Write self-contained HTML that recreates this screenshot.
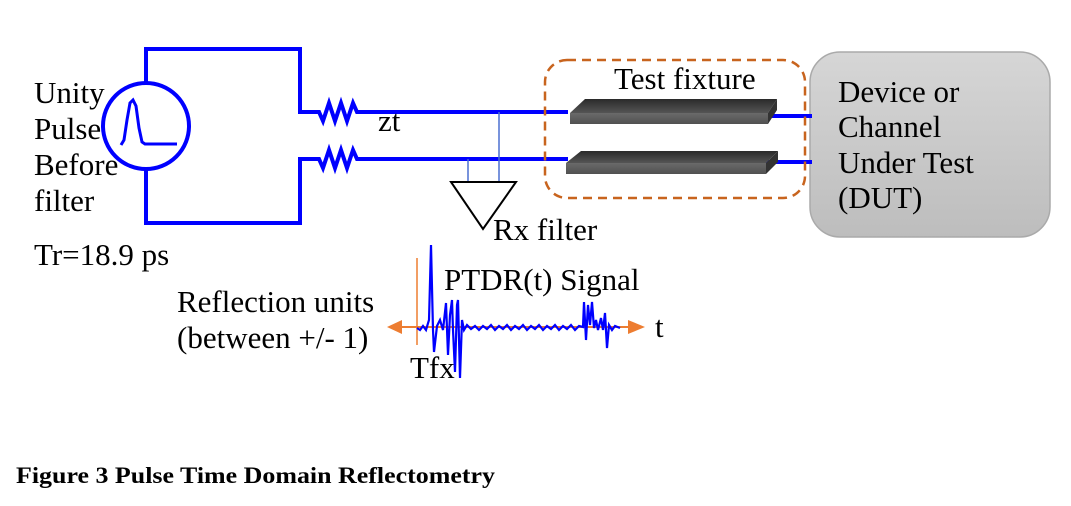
<!DOCTYPE html>
<html><head><meta charset="utf-8"><style>
html,body{margin:0;padding:0;background:#fff;}
svg{display:block;}
text{font-family:"Liberation Serif","Times New Roman",serif;font-size:31px;fill:#000;}
</style></head><body>
<svg width="1071" height="506" viewBox="0 0 1071 506" xmlns="http://www.w3.org/2000/svg">
<defs>
<linearGradient id="dut" x1="0" y1="0" x2="0" y2="1"><stop offset="0" stop-color="#d6d6d6"/><stop offset="1" stop-color="#bdbdbd"/></linearGradient>
<linearGradient id="top" x1="0" y1="0" x2="0" y2="1"><stop offset="0" stop-color="#2a2a2a"/><stop offset="1" stop-color="#555"/></linearGradient>
<linearGradient id="front" x1="0" y1="0" x2="0" y2="1"><stop offset="0" stop-color="#6a6a6a"/><stop offset="1" stop-color="#505050"/></linearGradient>
</defs>
<rect x="810" y="52" width="240" height="185" rx="30" fill="url(#dut)" stroke="#aaa" stroke-width="1.5"/>
<g stroke="#0000ff" stroke-width="4" fill="none">
<polyline points="146,82 146,49 300,49 300,112 313,112"/>
<polyline points="146,170 146,223 300,223 300,159 313,159"/>
<circle cx="146" cy="126" r="43"/>
<polyline points="121,145 124,140 127,120 130,103 133,100 136,106 139,128 142,142 145,144 177,144" stroke-width="3"/>
<polyline points="313,112 319,112 323,121 329,103 335,121 341,103 347,121 353,103 357,112 568,112"/>
<polyline points="313,159 319,159 323,168 329,150 335,168 341,150 347,168 353,150 357,159 568,159"/>
<line x1="766" y1="116" x2="812" y2="116"/>
<line x1="766" y1="162" x2="812" y2="162"/>
</g>
<g stroke="#4a6fd0" stroke-width="1.5">
<line x1="499" y1="112" x2="499" y2="182"/>
<line x1="468" y1="159" x2="468" y2="182"/>
</g>
<polygon points="451,182 516,182 483,229" fill="none" stroke="#000" stroke-width="2"/>
<polygon points="585,99 777,99 768,113 570,113" fill="url(#top)"/>
<polygon points="570,113 768,113 768,124 570,124" fill="url(#front)"/>
<polygon points="768,113 777,99 777,110 768,124" fill="#333"/>
<polygon points="581,151 778,151 766,163 566,163" fill="url(#top)"/>
<polygon points="566,163 766,163 766,174 566,174" fill="url(#front)"/>
<polygon points="766,163 778,151 778,162 766,174" fill="#333"/>
<rect x="545" y="60" width="260" height="138" rx="22" fill="none" stroke="#c8641e" stroke-width="2.5" stroke-dasharray="9,6"/>
<line x1="398" y1="327" x2="632" y2="327" stroke="#ed7d31" stroke-width="2"/>
<polygon points="387,327 402,320 402,334" fill="#ed7d31"/>
<polygon points="645,327 628,320 628,334" fill="#ed7d31"/>
<line x1="417" y1="258" x2="417" y2="345" stroke="#ed7d31" stroke-width="1.5"/>
<polyline fill="none" stroke="#0000ff" stroke-width="2.2" points="417,328 420,330 423,326 426,330 429,320 431,245 433,330 434,352 437,326 440,320 443,330 446,303 448,355 450,315 452,300 453,330 455,372 457,305 458,300 460,378 462,320 464,330 467,325 471,329 475,326 479,330 483,326 487,329 491,325 495,330 499,326 503,329 507,325 511,330 515,326 519,329 523,325 527,330 531,326 535,329 539,325 543,330 547,326 551,329 555,325 559,330 563,326 567,329 571,325 575,330 579,326 583,327 584,302 586,340 588,305 590,325 592,302 594,328 596,320 598,330 601,318 603,330 605,313 607,348 609,325 612,330 615,326 620,328"/>
<text x="34" y="103">Unity</text>
<text x="34" y="139">Pulse</text>
<text x="34" y="175">Before</text>
<text x="34" y="211">filter</text>
<text x="34" y="265">Tr=18.9 ps</text>
<text x="378" y="131">zt</text>
<text x="493" y="240">Rx filter</text>
<text x="444" y="290">PTDR(t) Signal</text>
<text x="655" y="337">t</text>
<text x="410" y="378">Tfx</text>
<text x="177" y="312">Reflection units</text>
<text x="177" y="348">(between +/- 1)</text>
<text x="614" y="89">Test fixture</text>
<text x="838" y="102">Device or</text>
<text x="838" y="137">Channel</text>
<text x="838" y="173">Under Test</text>
<text x="838" y="208">(DUT)</text>
<text x="16" y="483" style="font-size:23px;font-weight:bold" textLength="479" lengthAdjust="spacingAndGlyphs">Figure 3 Pulse Time Domain Reflectometry</text>
</svg>
</body></html>
